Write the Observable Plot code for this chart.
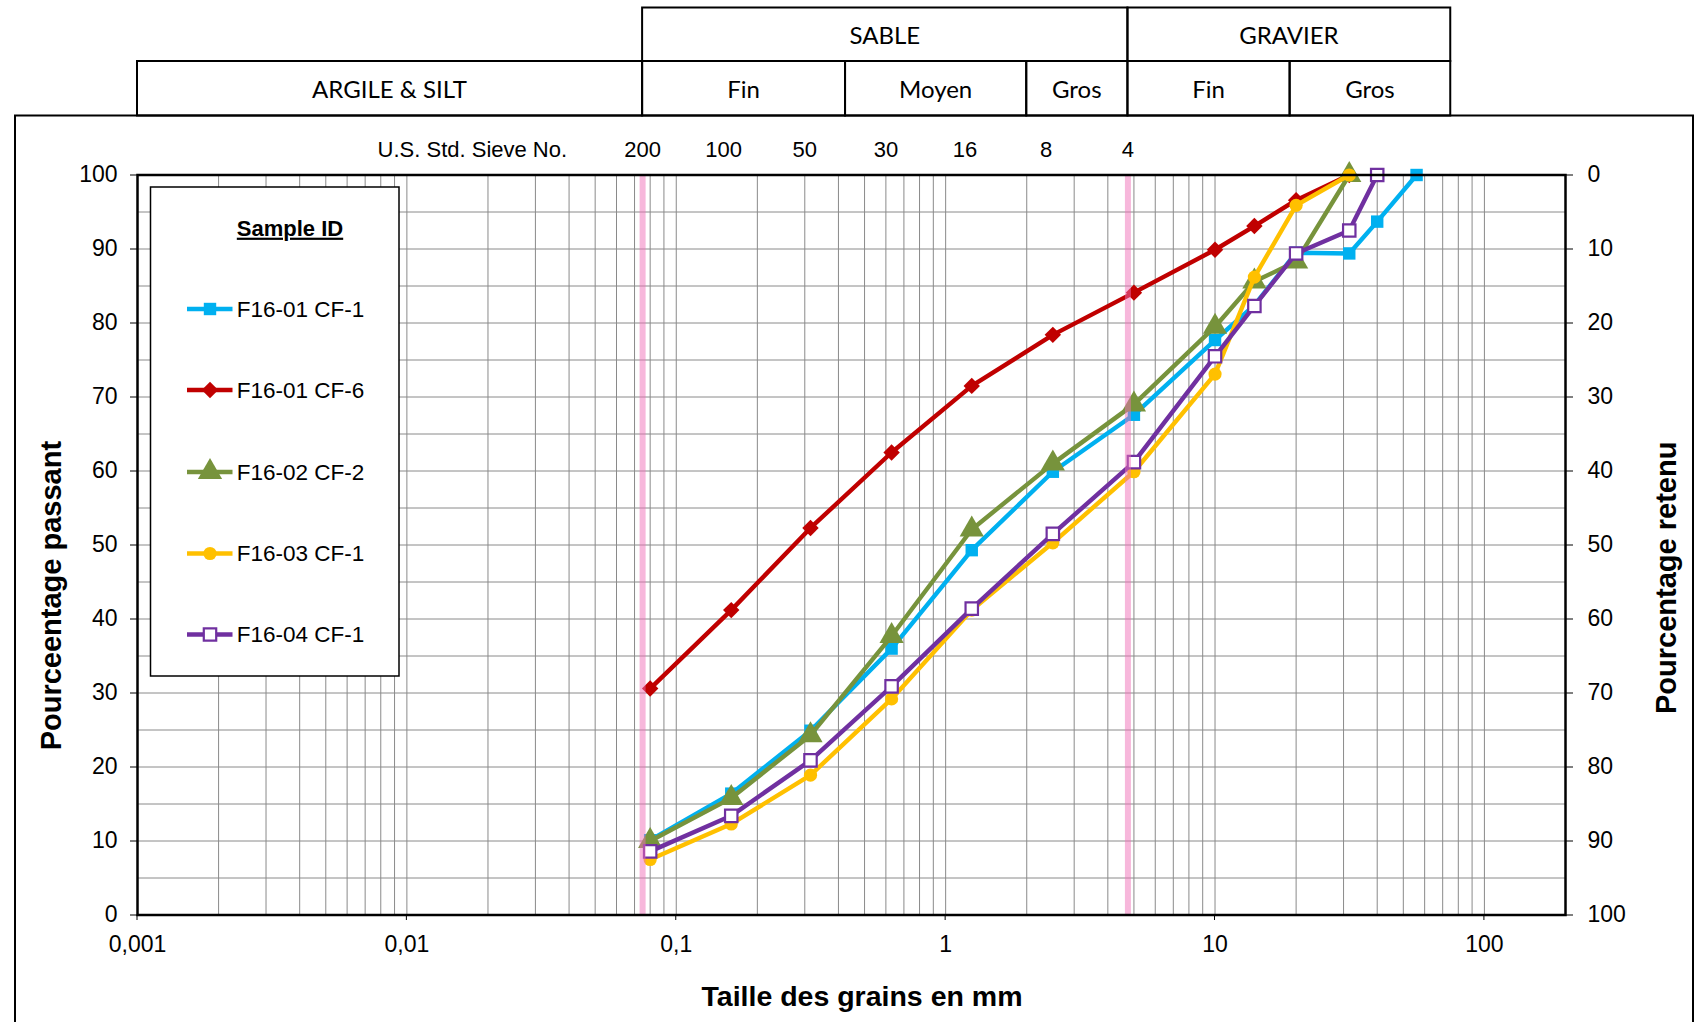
<!DOCTYPE html>
<html><head><meta charset="utf-8">
<script src="https://cdn.jsdelivr.net/npm/d3@7"></script>
<script src="https://cdn.jsdelivr.net/npm/@observablehq/plot@0.6"></script>
<style>
html,body{margin:0;padding:0;background:#fff;}
#chart{position:relative;width:1695px;height:1022px;overflow:hidden;background:#fff;}
</style></head><body><div id="chart"></div>
<script>
// ---- data ----
const sieveSizes = [0.08, 0.16, 0.315, 0.63, 1.25, 2.5, 5, 10, 14, 20, 31.5, 40, 56];
const seriesNames = ["F16-01 CF-1", "F16-01 CF-6", "F16-02 CF-2", "F16-03 CF-1", "F16-04 CF-1"];
const seriesColors = ["#00B0F0", "#C00000", "#77933C", "#FFC000", "#7030A0"];
const seriesSymbols = ["square", "diamond2", "triangle", "circle", "square"];
const passF1601CF1 = [10.1, 16.4, 24.9, 36.0, 49.3, 59.9, 67.6, 77.7, 82.4, 89.5, 89.4, 93.7, 100];
const passF1601CF6 = [30.6, 41.2, 52.3, 62.5, 71.5, 78.4, 84.1, 89.9, 93.1, 96.6, 100, null, null];
const passF1602CF2 = [10.0, 15.8, 24.3, 37.7, 52.1, 61.0, 69.0, 79.5, 85.6, 88.3, 100, null, null];
const passF1603CF1 = [7.5, 12.3, 18.9, 29.2, 41.2, 50.3, 59.9, 73.1, 86.2, 95.9, 100, null, null];
const passF1604CF1 = [8.6, 13.4, 20.9, 30.9, 41.4, 51.5, 61.2, 75.5, 82.3, 89.4, 92.5, 100, null];
const seriesValues = [passF1601CF1, passF1601CF6, passF1602CF2, passF1603CF1, passF1604CF1];

const usSieveSizes = [0.075, 0.15, 0.3, 0.6, 1.18, 2.36, 4.75];
const usSieveLabels = ["200", "100", "50", "30", "16", "8", "4"];
const xTicks = [0.001, 0.01, 0.1, 1, 10, 100];
const xTickLabels = ["0,001", "0,01", "0,1", "1", "10", "100"];
const yTicks = [0, 10, 20, 30, 40, 50, 60, 70, 80, 90, 100];
const yGrid = [0, 5, 10, 15, 20, 25, 30, 35, 40, 45, 50, 55, 60, 65, 70, 75, 80, 85, 90, 95, 100];
const limitSizes = [0.075, 4.75];
const classBounds = [0.001, 0.075, 0.425, 2, 4.75, 19, 75];
const classLabels = ["ARGILE & SILT", "Fin", "Moyen", "Gros", "Fin", "Gros"];
const groupBounds = [[0.075, 4.75], [4.75, 75]];
const groupLabels = ["SABLE", "GRAVIER"];

// log-grid positions (1..9 x 10^k)
const xGrid = [];
for (let k = -3; k <= 2; k++) for (let m = 1; m <= 9; m++) { const v = m * Math.pow(10, k); if (v <= 200.0001) xGrid.push(+v.toPrecision(3)); }

// ---- table ----
const rows = [];
seriesNames.forEach((name, i) => {
  seriesValues[i].forEach((v, j) => { if (v != null) rows.push({series: name, size: sieveSizes[j], pass: v}); });
});
const sieveRows = usSieveSizes.map((s, i) => ({size: s, label: usSieveLabels[i]}));
const xTickRows = xTicks.map((s, i) => ({size: s, label: xTickLabels[i]}));

const symR = s => s === "triangle" ? 9 : s === "diamond2" ? 7.4 : s === "circle" ? 6.6 : 7;

const seriesMarks = [];
seriesNames.forEach((name, i) => {
  const d = rows.filter(r => r.series === name);
  const hollow = i === 4;
  seriesMarks.push(Plot.line(d, {x: "size", y: "pass", stroke: seriesColors[i], strokeWidth: 4.4}));
  seriesMarks.push(Plot.dot(d, {
    x: "size", y: "pass", symbol: () => seriesSymbols[i], r: symR(seriesSymbols[i]),
    fill: hollow ? "#fff" : seriesColors[i],
    stroke: hollow ? seriesColors[i] : "none", strokeWidth: hollow ? 2.2 : 0
  }));
});

const W = 1695, H = 1022;
const font = "'Liberation Sans', Arial, sans-serif";
const plot = Plot.plot({
  width: W, height: H,
  marginLeft: 137, marginRight: 130, marginTop: 174.5, marginBottom: 107.5,
  style: {fontFamily: font, fontSize: "23px", color: "#000", background: "transparent", overflow: "visible"},
  x: {type: "log", domain: [0.001, 200], axis: null},
  y: {domain: [0, 100]},
  symbol: {type: "identity"},
  marks: [
    Plot.gridX(xGrid, {stroke: "#8a8a8a", strokeOpacity: 1, strokeWidth: 1}),
    Plot.gridY(yGrid, {stroke: "#8a8a8a", strokeOpacity: 1, strokeWidth: 1}),
    ...seriesMarks,
    Plot.ruleX(limitSizes, {stroke: "#f06fb8", strokeWidth: 6, strokeOpacity: 0.5}),
    Plot.frame({stroke: "#000", strokeWidth: 2.5}),
    Plot.axisY(yTicks, {anchor: "left", tickSize: 7, tickPadding: 13, label: null, fontSize: 23}),
    Plot.axisY(yTicks, {anchor: "right", tickSize: 7, tickPadding: 15, label: null, fontSize: 23, tickFormat: d => String(100 - d)}),
    Plot.text(xTickRows, {x: "size", text: "label", frameAnchor: "bottom", lineAnchor: "middle", dy: 29.2, fontSize: 23}),
    Plot.text(sieveRows, {x: "size", text: "label", frameAnchor: "top", lineAnchor: "middle", dy: -25.5, fontSize: 22})
  ]
});

document.getElementById("chart").appendChild(plot);

// ---- annotations using the plot's x scale ----
const xs = plot.scale("x");
const X = v => xs.apply(v);
const svg = d3.select(plot);
const ann = svg.append("g").attr("text-anchor", "start");

// small ticks under the x axis
xTicks.forEach(v => {
  ann.append("line").attr("x1", X(v)).attr("x2", X(v)).attr("y1", 914.5).attr("y2", 920).attr("stroke", "#000").attr("stroke-width", 1);
});

// outer chart frame
ann.append("rect").attr("x", 15).attr("y", 115.5).attr("width", 1693 - 15).attr("height", 1100)
  .attr("fill", "none").attr("stroke", "#000").attr("stroke-width", 2);

// header table
const hdr = ann.append("g");
const r1 = [7.5, 61], r2 = [61, 115.5];
groupBounds.forEach((b, i) => {
  hdr.append("rect").attr("x", X(b[0])).attr("y", r1[0]).attr("width", X(b[1]) - X(b[0])).attr("height", r1[1] - r1[0])
    .attr("fill", "none").attr("stroke", "#000").attr("stroke-width", 2);
  hdr.append("text").attr("x", (X(b[0]) + X(b[1])) / 2).attr("y", (r1[0] + r1[1]) / 2 + 1).attr("dy", "0.35em")
    .attr("text-anchor", "middle").attr("font-family", "Lato, 'Open Sans', sans-serif").attr("font-size", 24).text(groupLabels[i]);
});
for (let i = 0; i < classLabels.length; i++) {
  const a = X(classBounds[i]), b = X(classBounds[i + 1]);
  hdr.append("rect").attr("x", a).attr("y", r2[0]).attr("width", b - a).attr("height", r2[1] - r2[0])
    .attr("fill", "none").attr("stroke", "#000").attr("stroke-width", 2);
  hdr.append("text").attr("x", (a + b) / 2).attr("y", (r2[0] + r2[1]) / 2 + 1).attr("dy", "0.35em")
    .attr("text-anchor", "middle").attr("font-family", "Lato, 'Open Sans', sans-serif").attr("font-size", 24).text(classLabels[i]);
}

// sieve caption
ann.append("text").attr("x", X(0.075) - 75).attr("y", 149).attr("dy", "0.35em").attr("text-anchor", "end")
  .attr("font-family", font).attr("font-size", 22).text("U.S. Std. Sieve No.");

// axis titles
ann.append("text").attr("transform", "translate(51,595.6) rotate(-90)").attr("text-anchor", "middle").attr("dy", "0.35em")
  .attr("font-family", font).attr("font-weight", "bold").attr("font-size", 29).text("Pourceentage passant");
ann.append("text").attr("transform", "translate(1666,577.8) rotate(-90)").attr("text-anchor", "middle").attr("dy", "0.35em")
  .attr("font-family", font).attr("font-weight", "bold").attr("font-size", 29).text("Pourcentage retenu");
ann.append("text").attr("x", 862).attr("y", 995.6).attr("dy", "0.35em").attr("text-anchor", "middle")
  .attr("font-family", font).attr("font-weight", "bold").attr("font-size", 28.5).text("Taille des grains en mm");

// legend
const lg = ann.append("g");
lg.append("rect").attr("x", 150.5).attr("y", 187).attr("width", 248.5).attr("height", 489)
  .attr("fill", "#fff").attr("stroke", "#000").attr("stroke-width", 1.5);
lg.append("text").attr("x", 290).attr("y", 228).attr("dy", "0.35em").attr("text-anchor", "middle")
  .attr("font-family", font).attr("font-weight", "bold").attr("font-size", 22).attr("text-decoration", "underline").text("Sample ID");
const symMap = {square: d3.symbolSquare, diamond2: d3.symbolDiamond2, triangle: d3.symbolTriangle, circle: d3.symbolCircle};
const legY = [309, 390, 472, 553.5, 634.5];
seriesNames.forEach((name, i) => {
  const y = legY[i];
  lg.append("line").attr("x1", 187).attr("x2", 232.5).attr("y1", y).attr("y2", y)
    .attr("stroke", seriesColors[i]).attr("stroke-width", 4.4);
  const r = symR(seriesSymbols[i]);
  const hollow = i === 4;
  lg.append("path").attr("transform", `translate(210,${y})`)
    .attr("d", d3.symbol(symMap[seriesSymbols[i]], Math.PI * r * r)())
    .attr("fill", hollow ? "#fff" : seriesColors[i]).attr("stroke", hollow ? seriesColors[i] : "none").attr("stroke-width", hollow ? 2.2 : 0);
  lg.append("text").attr("x", 236.7).attr("y", y).attr("dy", "0.35em").attr("text-anchor", "start")
    .attr("font-family", font).attr("font-size", 22.5).text(name);
});
</script></body></html>
